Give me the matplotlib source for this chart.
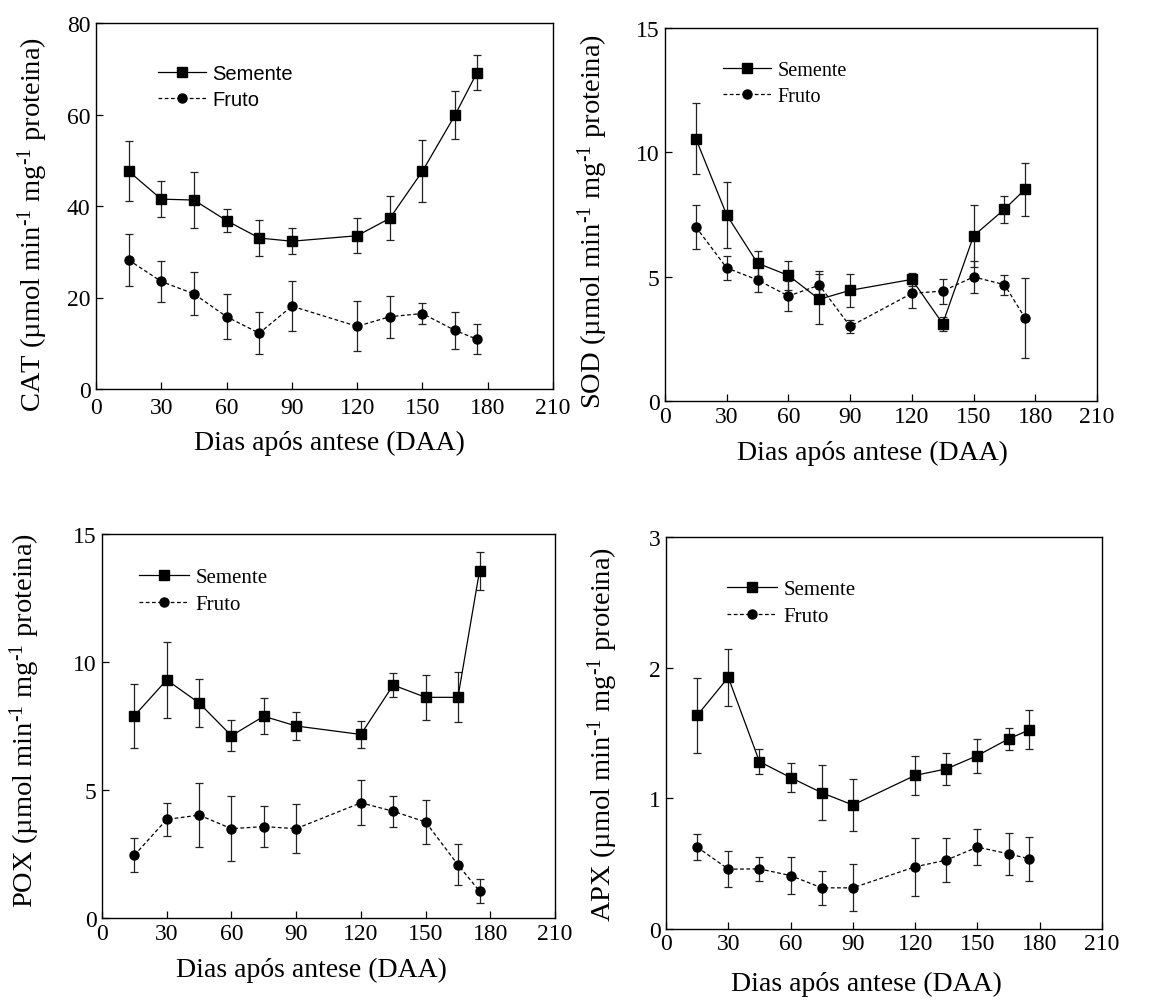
import matplotlib
matplotlib.use("Agg")
import matplotlib.pyplot as plt
from matplotlib.font_manager import FontProperties

plt.rcParams['font.family'] = ['Liberation Serif', 'DejaVu Serif']
plt.rcParams['mathtext.fontset'] = 'custom'
plt.rcParams['mathtext.rm'] = 'Liberation Serif'
plt.rcParams['mathtext.it'] = 'Liberation Serif:italic'
plt.rcParams['mathtext.bf'] = 'Liberation Serif:bold'

# ---------------- data ----------------
days = [15, 30, 45, 60, 75, 90, 120, 135, 150, 165, 175]

cat_semente = [47.6, 41.5, 41.3, 36.8, 33.0, 32.3, 33.5, 37.3, 47.6, 59.9, 69.1]
cat_semente_err = [6.6, 4.0, 6.2, 2.5, 3.9, 2.8, 3.8, 4.8, 6.8, 5.2, 3.8]
cat_fruto = [28.2, 23.5, 20.8, 15.8, 12.2, 18.1, 13.7, 15.8, 16.5, 12.8, 10.9]
cat_fruto_err = [5.6, 4.5, 4.7, 4.9, 4.6, 5.4, 5.5, 4.6, 2.4, 4.1, 3.3]

sod_semente = [10.55, 7.48, 5.54, 5.05, 4.09, 4.45, 4.89, 3.11, 6.64, 7.71, 8.51]
sod_semente_err = [1.43, 1.33, 0.51, 0.59, 1.0, 0.67, 0.27, 0.28, 1.24, 0.54, 1.07]
sod_fruto = [7.0, 5.35, 4.87, 4.22, 4.66, 3.0, 4.33, 4.42, 4.99, 4.68, 3.34]
sod_fruto_err = [0.88, 0.48, 0.5, 0.6, 0.55, 0.26, 0.6, 0.5, 0.66, 0.4, 1.6]

pox_semente = [7.9, 9.3, 8.4, 7.12, 7.88, 7.5, 7.17, 9.1, 8.62, 8.62, 13.55]
pox_semente_err = [1.25, 1.47, 0.92, 0.6, 0.7, 0.53, 0.51, 0.47, 0.88, 0.98, 0.75]
pox_fruto = [2.45, 3.85, 4.02, 3.49, 3.57, 3.49, 4.5, 4.17, 3.75, 2.08, 1.05]
pox_fruto_err = [0.66, 0.64, 1.24, 1.28, 0.79, 0.95, 0.88, 0.6, 0.86, 0.81, 0.47]

apx_semente = [1.634, 1.926, 1.281, 1.159, 1.043, 0.949, 1.176, 1.225, 1.327, 1.455, 1.524]
apx_semente_err = [0.29, 0.22, 0.095, 0.11, 0.21, 0.2, 0.15, 0.125, 0.13, 0.085, 0.15]
apx_fruto = [0.627, 0.458, 0.46, 0.409, 0.315, 0.315, 0.476, 0.527, 0.627, 0.575, 0.537]
apx_fruto_err = [0.1, 0.14, 0.09, 0.14, 0.13, 0.18, 0.22, 0.17, 0.14, 0.16, 0.17]

series_labels = ["Semente", "Fruto"]
x_ticks = [0, 30, 60, 90, 120, 150, 180, 210]
xlabel_text = "Dias após antese (DAA)"
unit_text = r" (µmol min$^{\text{-1}}$ mg$^{\text{-1}}$ proteina)"

panels = [
    dict(name="CAT", sem=cat_semente, sem_e=cat_semente_err, fru=cat_fruto, fru_e=cat_fruto_err,
         ymax=80, yticks=[0, 20, 40, 60, 80]),
    dict(name="SOD", sem=sod_semente, sem_e=sod_semente_err, fru=sod_fruto, fru_e=sod_fruto_err,
         ymax=15, yticks=[0, 5, 10, 15]),
    dict(name="POX", sem=pox_semente, sem_e=pox_semente_err, fru=pox_fruto, fru_e=pox_fruto_err,
         ymax=15, yticks=[0, 5, 10, 15]),
    dict(name="APX", sem=apx_semente, sem_e=apx_semente_err, fru=apx_fruto, fru_e=apx_fruto_err,
         ymax=3, yticks=[0, 1, 2, 3]),
]

# ---------------- layout ----------------
W, H = 1170, 1003
fig = plt.figure(figsize=(W / 100, H / 100), dpi=100)

# pixel boxes: left, right, top, bottom
boxes = [(96, 553, 24, 390), (665, 1097, 29, 402), (102, 555, 535, 919), (666, 1102, 538, 930)]
leg_pos = [(0.136, 0.888), (0.134, 0.912), (0.082, 0.913), (0.140, 0.892)]
ylab_pos = [(-0.100, 0.453), (-0.127, 0.483), (-0.132, 0.518), (-0.106, 0.50)]
xlab_pos = [(0.51, -0.112), (0.48, -0.105), (0.463, -0.102), (0.46, -0.108)]
xpad = [6, 3.5, 3.5, 3]
leg_fonts = [dict(family='Liberation Sans', size=14.5), dict(family='Liberation Serif', size=14.5),
             dict(family='Liberation Serif', size=15), dict(family='Liberation Serif', size=15)]

for i, p in enumerate(panels):
    l, r, t, b = boxes[i]
    ax = fig.add_axes([l / W, (H - b) / H, (r - l) / W, (b - t) / H])

    ax.errorbar(days, p["sem"], yerr=p["sem_e"], fmt='none', ecolor='#222222',
                elinewidth=0.9, capsize=3, capthick=0.9, zorder=2)
    ax.errorbar(days, p["fru"], yerr=p["fru_e"], fmt='none', ecolor='#222222',
                elinewidth=0.9, capsize=3, capthick=0.9, zorder=2)
    ax.plot(days, p["sem"], color='black', lw=0.9, marker='s', ms=6.5,
            mfc='black', mec='black', label=series_labels[0], zorder=3)
    ax.plot(days, p["fru"], color='black', lw=0.9, ls=(0, (3, 2)), marker='o', ms=6.5,
            mfc='black', mec='black', label=series_labels[1], zorder=3)

    ax.set_xlim(0, 210)
    ax.set_ylim(0, p["ymax"])
    ax.set_xticks(x_ticks)
    ax.set_yticks(p["yticks"])
    ax.tick_params(direction='in', length=5, width=0.9, labelsize=17)
    ax.tick_params(axis='x', pad=xpad[i])
    ax.tick_params(axis='y', pad=4)
    for s in ax.spines.values():
        s.set_linewidth(1.0)

    ax.set_xlabel(xlabel_text, fontsize=20)
    ax.xaxis.set_label_coords(*xlab_pos[i])
    ax.set_ylabel(p["name"] + unit_text, fontsize=20.5)
    ax.yaxis.set_label_coords(*ylab_pos[i])

    ax.legend(loc='upper left', bbox_to_anchor=leg_pos[i], frameon=False,
              borderpad=0, borderaxespad=0, handlelength=2.4, handletextpad=0.3,
              labelspacing=0.35, numpoints=1, prop=FontProperties(**leg_fonts[i]))

fig.savefig("out.png", dpi=100)
